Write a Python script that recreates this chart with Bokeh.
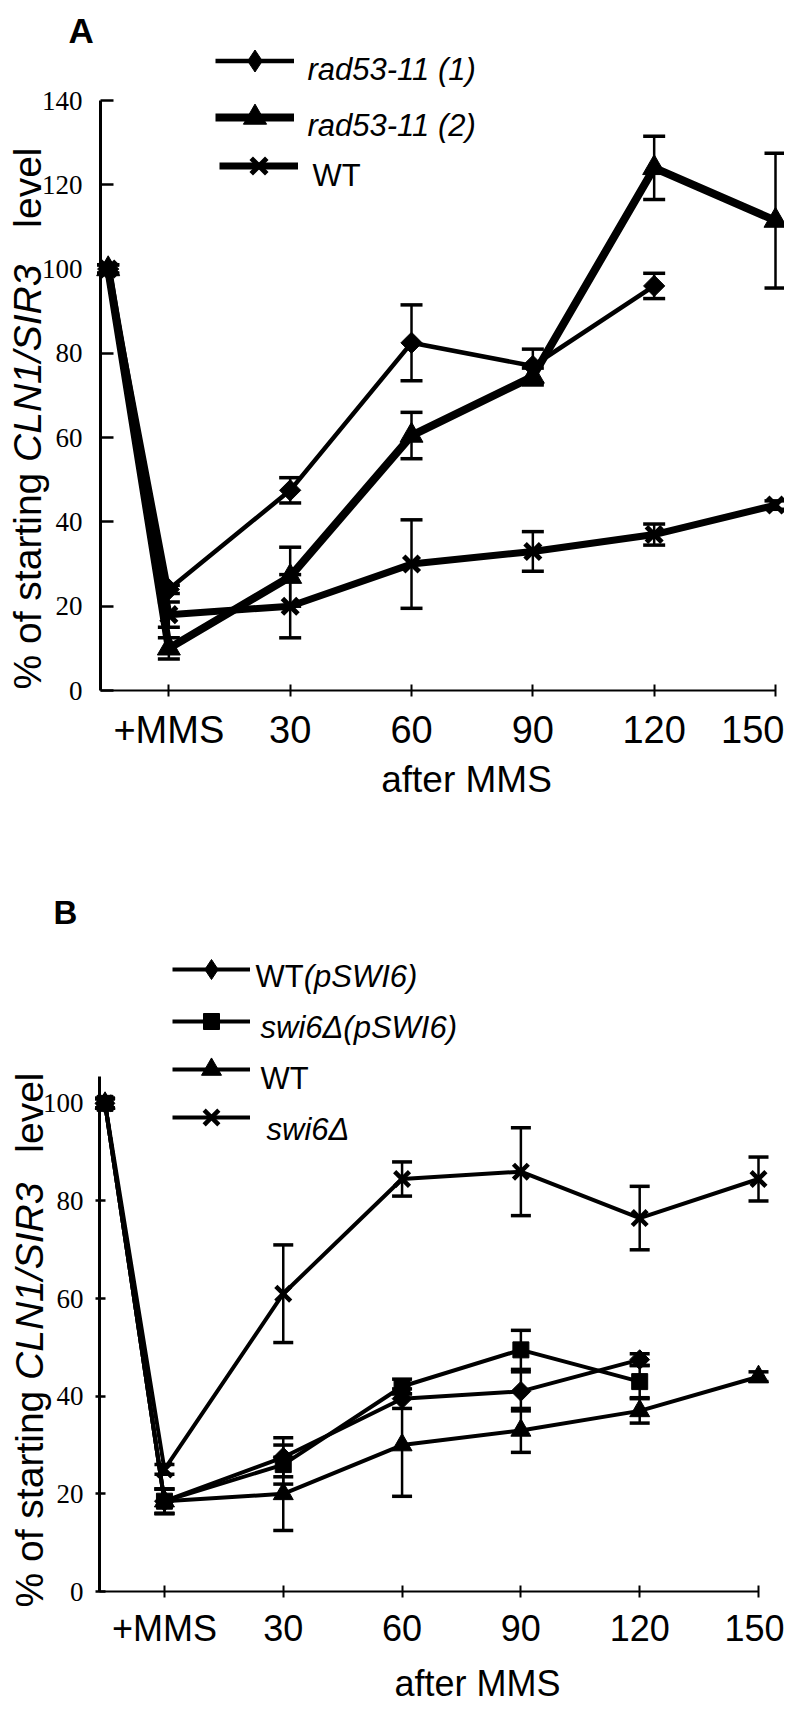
import math
from bokeh.plotting import figure
from bokeh.models import (Range1d, FixedTicker, Whisker, TeeHead, ColumnDataSource,
                          Legend, LegendItem, Label)
from bokeh.layouts import column
from bokeh.embed import file_html
from bokeh.resources import INLINE

# ---------------- data ----------------
# minutes after MMS; the first point is the untreated start (unlabelled)
minutes = [-15, 0, 30, 60, 90, 120, 150]
tick_minutes = [0, 30, 60, 90, 120, 150]
tick_labels = ["+MMS", "30", "60", "90", "120", "150"]
y_ticks_a = [0, 20, 40, 60, 80, 100, 120, 140]
y_ticks_b = [0, 20, 40, 60, 80, 100]

# Panel A
rad53_11_1 = [100, 24, 47.5, 82.5, 77, 96]
rad53_11_1_err = [1, 1, 3, 9, 4, 3]
rad53_11_2 = [100, 10, 27, 60.5, 74.5, 124, 111.5]
rad53_11_2_err = [1, 2.5, 7, 5.5, 2, 7.5, 16]
wt_a = [100, 18, 20, 30, 33, 37, 44]
wt_a_err = [1, 3, 7.5, 10.5, 4.7, 2.5, 1]

# Panel B
wt_pswi6 = [100, 18.5, 27.5, 39.5, 41, 47.5]
wt_pswi6_err = [1, 2.5, 4, 2, 4, 1.2]
swi6_pswi6 = [100, 18.5, 26, 42, 49.5, 43]
swi6_pswi6_err = [1, 2.5, 4, 1.5, 4, 3.3]
wt_b = [100, 18.5, 20, 30, 33, 37, 44]
wt_b_err = [1, 2.5, 7.5, 10.5, 4.5, 2.5, 1]
swi6 = [100, 25, 61, 84.5, 86, 76.5, 84.5]
swi6_err = [1, 1, 10, 3.5, 9, 6.5, 4.5]

SANS = "Liberation Sans"
SERIF = "Liberation Serif"

# Arial / Liberation Sans advance widths (per em)
AW = {'%': .889, ' ': .278, 'o': .556, 'f': .278, 's': .5, 't': .278, 'a': .556, 'r': .333,
      'i': .222, 'n': .556, 'g': .556, 'C': .722, 'L': .556, 'N': .722, '1': .556, '/': .278,
      'S': .667, 'I': .278, 'R': .722, '3': .556, 'l': .222, 'e': .556, 'v': .5, 'W': .944,
      'T': .611, '(': .333, ')': .333, 'p': .556, '6': .556, 'w': .722, 'Δ': .668}


def tw(text, fs):
    return sum(AW.get(c, .556) for c in text) * fs


class Geo:
    """Whole figure is the frame; axes are drawn at fixed locations inside it."""
    def __init__(self, W, H, axL, axR, axT, axB, x_at_L, x_at_R, y_top):
        self.W, self.H = W, H
        self.ppx = (axR - axL) / (x_at_R - x_at_L)
        self.ppy = (axB - axT) / y_top
        self.xs = x_at_L - axL / self.ppx
        self.xe = x_at_L + (W - axL) / self.ppx
        self.ys = -(H - axB) / self.ppy
        self.ye = y_top + axT / self.ppy
        self.x_axis_start = x_at_L
        self.y_top = y_top

    def dx(self, fx):
        return self.xs + fx / self.ppx

    def dy(self, fy):
        return self.ys + (self.H - fy) / self.ppy


def make_fig(g, yticks, ytick_in, ytick_out, ystandoff, xfs=38, xstandoff=12):
    p = figure(width=g.W, height=g.H, x_range=Range1d(g.xs, g.xe), y_range=Range1d(g.ys, g.ye),
               output_backend="svg", toolbar_location=None,
               min_border_left=0, min_border_right=0, min_border_top=0, min_border_bottom=0)
    p.outline_line_color = None
    p.xgrid.visible = False
    p.ygrid.visible = False
    p.background_fill_color = "white"
    p.border_fill_color = "white"

    xa = p.xaxis[0]
    xa.fixed_location = 0
    xa.ticker = FixedTicker(ticks=tick_minutes)
    xa.major_label_overrides = {t: l for t, l in zip(tick_minutes, tick_labels)}
    xa.bounds = (g.x_axis_start, 150)
    xa.axis_line_width = 2
    xa.axis_line_color = "black"
    xa.major_tick_line_width = 2
    xa.major_tick_in = 6
    xa.major_tick_out = 6
    xa.minor_tick_line_color = None
    xa.major_label_text_font = SANS
    xa.major_label_text_font_size = f"{xfs}px"
    xa.major_label_text_color = "black"
    xa.major_label_standoff = xstandoff

    ya = p.yaxis[0]
    ya.fixed_location = g.x_axis_start
    ya.ticker = FixedTicker(ticks=yticks)
    ya.bounds = (0, g.y_top)
    ya.axis_line_width = 3
    ya.axis_line_color = "black"
    ya.major_tick_line_width = 2.5
    ya.major_tick_in = ytick_in
    ya.major_tick_out = ytick_out
    ya.minor_tick_line_color = None
    ya.major_label_text_font = SERIF
    ya.major_label_text_font_size = "27px"
    ya.major_label_text_color = "black"
    ya.major_label_standoff = ystandoff
    return p


def add_series(p, g, ys, errs, marker, size, lw, leg, angle=0.0, mlw=1.0, head=22,
               legend_marker=None):
    xs = minutes[:len(ys)]
    src = ColumnDataSource(dict(x=xs, y=ys,
                                upper=[v + e for v, e in zip(ys, errs)],
                                lower=[v - e for v, e in zip(ys, errs)]))
    w = Whisker(base="x", upper="upper", lower="lower", source=src, dimension="height",
                line_width=2.5, line_color="black",
                upper_head=TeeHead(size=head, line_width=3.5, line_color="black"),
                lower_head=TeeHead(size=head, line_width=3.5, line_color="black"))
    p.add_layout(w)
    lr = p.line("x", "y", source=src, line_width=lw, line_color="black", line_join="round")
    sr = p.scatter("x", "y", source=src, marker=marker, size=size, angle=angle,
                   fill_color="black", line_color="black", line_width=mlw)
    rends = [lr, sr]
    if legend_marker is not None:
        # legend-only key symbol (the legend does not rotate markers)
        proxy = p.scatter(x=[float("nan")], y=[float("nan")], marker=legend_marker,
                          size=size, fill_color="black", line_color="black", line_width=mlw)
        rends = [lr, proxy]
    # legend entry: (line start fig-x, row centre fig-y, glyph width, glyph height)
    fx0, fyc, gw, gh = leg
    lg = Legend(items=[LegendItem(label=" ", renderers=rends)],
                location=(fx0, g.H - (fyc + gh / 2)),
                glyph_width=gw, glyph_height=gh, padding=0, margin=0, spacing=0,
                label_standoff=0, label_width=0, label_height=0,
                label_text_font_size="1px", border_line_alpha=0, background_fill_alpha=0)
    p.add_layout(lg, "center")


def add_text(p, g, fx, fy, text, size, style="normal", align="left", baseline="alphabetic",
             angle=0.0, font=SANS):
    p.add_layout(Label(x=g.dx(fx), y=g.dy(fy), text=text, text_font=font,
                       text_font_size=f"{size}px", text_font_style=style, text_color="black",
                       text_align=align, text_baseline=baseline, angle=angle))


def add_ylabel(p, g, fx, fy0, span, fs=39):
    pieces = [("% of starting ", "normal"), ("CLN1/SIR3", "italic")]
    off = 0.0
    for t, st in pieces:
        add_text(p, g, fx, fy0 - off, t, fs, style=st, angle=math.pi / 2)
        off += tw(t, fs)
    add_text(p, g, fx, fy0 - span + tw("level", fs), "level", fs, angle=math.pi / 2)


# ---------------- Panel A ----------------
GA = Geo(W=784, H=840, axL=100, axR=775, axT=100, axB=690, x_at_L=-16.9, x_at_R=150, y_top=140)
pa = make_fig(GA, y_ticks_a, 13, 0, 18)
add_series(pa, GA, rad53_11_1, rad53_11_1_err, "square", 15, 4.5, (215, 60, 79, 55),
           angle=math.pi / 4, legend_marker="diamond")
add_series(pa, GA, rad53_11_2, rad53_11_2_err, "triangle", 23, 8, (215, 117, 79, 58))
add_series(pa, GA, wt_a, wt_a_err, "x", 22, 7, (219, 165, 79, 55), mlw=5)

add_text(pa, GA, 68, 30, "A", 35, style="bold")
add_text(pa, GA, 307, 69, "rad53-11 (1)", 31, style="italic")
add_text(pa, GA, 307, 125, "rad53-11 (2)", 31, style="italic")
add_text(pa, GA, 312, 175, "WT", 31)
add_text(pa, GA, 466, 779, "after MMS", 37, align="center")
add_ylabel(pa, GA, 27, 689, 542)

# ---------------- Panel B ----------------
OB = 6  # panel B canvas starts 6px higher than the nominal 854 page offset
GB = Geo(W=784, H=864, axL=99, axR=758, axT=230 + OB, axB=745 + OB, x_at_L=-16.4, x_at_R=150,
         y_top=105.5)
pb = make_fig(GB, y_ticks_b, 6, 4, 12, xfs=36, xstandoff=10)
add_series(pb, GB, wt_pswi6, wt_pswi6_err, "square", 14, 4, (172, 123 + OB, 78, 50),
           angle=math.pi / 4, head=20, legend_marker="diamond")
add_series(pb, GB, swi6_pswi6, swi6_pswi6_err, "square", 16, 4, (172, 175 + OB, 78, 40), head=20)
add_series(pb, GB, wt_b, wt_b_err, "triangle", 20, 4, (172, 223 + OB, 78, 50), head=20)
add_series(pb, GB, swi6, swi6_err, "x", 21, 4, (172, 271 + OB, 78, 52), mlw=4.5, head=20)

add_text(pb, GB, 53, 66 + OB, "B", 33, style="bold")
add_text(pb, GB, 255, 130 + OB, "WT", 31)
add_text(pb, GB, 255 + tw("WT", 31), 130 + OB, "(pSWI6)", 31, style="italic")
add_text(pb, GB, 260, 181 + OB, "swi6Δ(pSWI6)", 31, style="italic")
add_text(pb, GB, 260, 232 + OB, "WT", 31)
add_text(pb, GB, 266, 283 + OB, "swi6Δ", 31, style="italic")
add_text(pb, GB, 477, 843, "after MMS", 36, align="center")
add_ylabel(pb, GB, 29, 761 + OB, 535)

layout = column(pa, pb, spacing=0)
open("out.html", "w").write(file_html(layout, INLINE))
